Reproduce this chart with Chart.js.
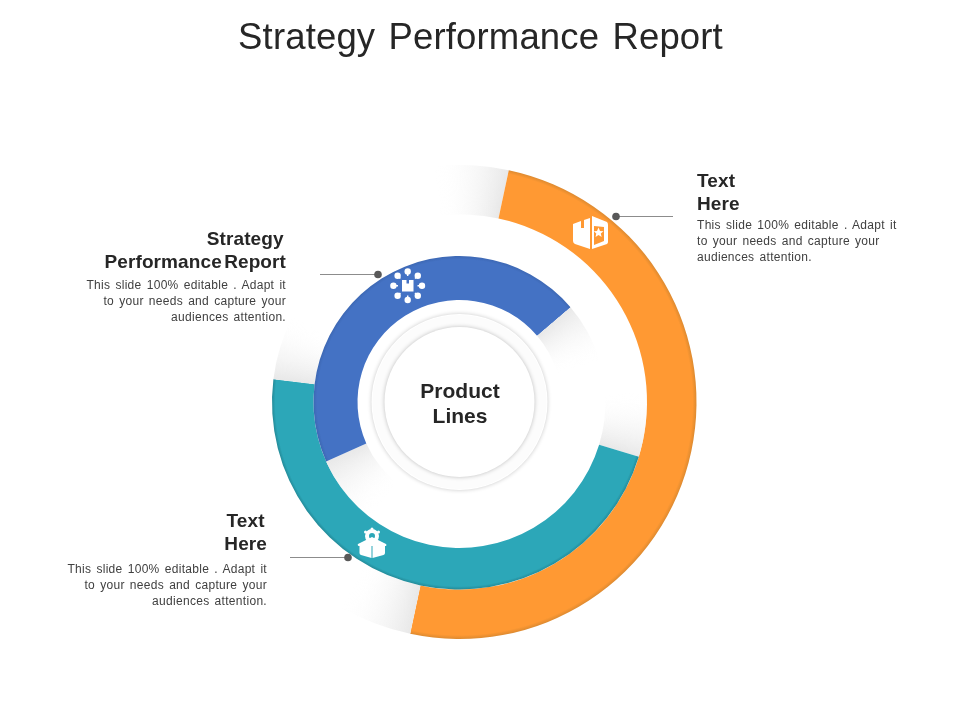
<!DOCTYPE html>
<html>
<head>
<meta charset="utf-8">
<title>Strategy Performance Report</title>
<script src="https://cdn.jsdelivr.net/npm/chart.js@4"></script>
<style>
    html, body { margin: 0; padding: 0; background: #fff; }
    #stage { position: relative; width: 960px; height: 720px; overflow: hidden; font-family: "Liberation Sans", Arial, sans-serif; }
    #ringChart { position: absolute; left: 0; top: 0; }
    .icon { position: absolute; left: 0; top: 0; }
    .title { position: absolute; left: 0; width: 961px; top: 15px; text-align: center; font-size: 36.5px; letter-spacing: 0.15px; line-height: 44px; color: #262626; word-spacing: 3px; }
    .centerText { position: absolute; left: 380px; width: 160px; top: 378px; text-align: center; font-size: 21px; font-weight: bold; line-height: 25px; color: #262626; }
    .callout { position: absolute; width: 240px; white-space: pre; }
    .callout.right { text-align: right; }
    .head { font-size: 19px; font-weight: bold; letter-spacing: 0.1px; word-spacing: -3px; line-height: 23px; color: #262626; }
    .body { font-size: 12px; line-height: 16px; color: #404040; letter-spacing: 0.3px; word-spacing: 1.5px; }
</style>
</head>
<body>
<div id="stage">
    <canvas id="ringChart" width="960" height="720"></canvas>

    <svg class="icon" width="960" height="720" viewBox="0 0 960 720">
        <!-- box with star -->
        <path d="M573 224 L581 221 V228 H584 V220 L590 218 V249 L575 244 Q573 243 573 241 Z" fill="#fff"/>
        <path d="M592 216 L607 222 Q608 223 608 225 V242 Q608 243 607 244 L592 249 Z M594 226 V245 L604 241 V227 Z" fill="#fff" fill-rule="evenodd"/>
        <path d="M598.500 227.500 L600 231 L603.500 231.300 L600.800 233.500 L601.700 237 L598.500 235 L595.500 237 L596.300 233.500 L593.800 231.300 L597 231 Z" fill="#fff"/>
        <!-- bulbs around a box -->
        <rect x="402" y="280" width="11.500" height="11.500" fill="#fff"/>
        <rect x="406.500" y="280" width="2.500" height="3.500" fill="#4472c4"/>
        <g fill="#fff">
            <circle cx="407.700" cy="271.500" r="3.200"/><circle cx="417.800" cy="275.700" r="3.200"/>
            <circle cx="422" cy="285.700" r="3.200"/><circle cx="417.800" cy="295.800" r="3.200"/>
            <circle cx="407.700" cy="300" r="3.200"/><circle cx="397.600" cy="295.800" r="3.200"/>
            <circle cx="393.400" cy="285.700" r="3.200"/><circle cx="397.600" cy="275.700" r="3.200"/>
        </g>
        <path d="M407.700 271.500 V276 M417.800 275.700 L415 278.500 M422 285.700 H417.500 M417.800 295.800 L415 293 M407.700 300 V295.500 M397.600 295.800 L400.400 293 M393.400 285.700 H398 M397.600 275.700 L400.400 278.500" stroke="#fff" stroke-width="1.500" fill="none"/>
        <!-- gift box with gear -->
        <circle cx="372" cy="536" r="5" fill="none" stroke="#fff" stroke-width="4"/>
        <circle cx="372" cy="529" r="1.500" fill="#fff"/><circle cx="365.500" cy="532" r="1.500" fill="#fff"/><circle cx="378.500" cy="532" r="1.500" fill="#fff"/>
        <path d="M372 537 L386 544 Q387 545 386 546 H358.500 Q357 545 358 544 Z" fill="#fff"/>
        <path d="M359.500 546 H371.500 V558 L361 555 Q359.500 554.500 359.500 553 Z M372.500 546 H385 V553 Q385 554.500 383.500 555 L372.500 558 Z" fill="#fff"/>
    </svg>

    <div class="title" id="titleText"></div>
    <div class="centerText" id="centerText"></div>
    <div class="callout" id="noteOrange" style="left: 697px; top: 169px;"></div>
    <div class="callout right" id="noteBlue" style="left: 46px; top: 227px;"></div>
    <div class="callout right" id="noteTeal" style="left: 27px; top: 509px;"></div>
</div>

<script>
const titleLabel = "Strategy Performance Report";
const centerLabel = "Product\nLines";
const bodyLabel = "This slide 100% editable . Adapt it\nto your needs and capture your\naudiences attention.";
const orangeHead = "Text\nHere";
const blueHead = "Strategy \nPerformance Report";
const tealHead = "Text \nHere";

const segmentLabels = ["Lead", "Share", "Tail", "Gap"];

// sweep of each ring in degrees, read clockwise from the rotation
const orangeSweep = [18, 180, 18, 144];
const tealSweep = [20, 170, 20, 150];
const blueSweep = [28, 163.5, 24, 144.5];
const orangeRotation = -6;
const tealRotation = 87;
const blueRotation = 218;

const CX = 459.5;
const CY = 402;
const OUTER = 237;

const canvas = document.getElementById("ringChart");
const ctx = canvas.getContext("2d");

document.getElementById("titleText").textContent = titleLabel;
document.getElementById("centerText").innerHTML = centerLabel.replace("\n", "<br>");

function fillNote(id, head, body, gap) {
    const el = document.getElementById(id);
    const h = document.createElement("div");
    h.className = "head";
    h.textContent = head;
    const b = document.createElement("div");
    b.className = "body";
    b.style.marginTop = gap + "px";
    b.textContent = body;
    el.appendChild(h);
    el.appendChild(b);
}
fillNote("noteOrange", orangeHead, bodyLabel, 2);
fillNote("noteBlue", blueHead, bodyLabel, 4);
fillNote("noteTeal", tealHead, bodyLabel, 6);

// grey shadow sector that melts into the page
function fade(fromDeg, spanDeg, greyFirst) {
    const g = ctx.createConicGradient(((fromDeg - 90) * Math.PI) / 180, CX, CY);
    const end = spanDeg / 360;
    g.addColorStop(0, greyFirst ? "#e8e8e8" : "rgba(255,255,255,0)");
    g.addColorStop(end, greyFirst ? "rgba(255,255,255,0)" : "#e8e8e8");
    g.addColorStop(Math.min(end + 0.001, 1), "rgba(255,255,255,0)");
    return g;
}

// flat band with a darker rim on the outer edge
function band(inner, outer, color, rim) {
    const g = ctx.createRadialGradient(CX, CY, inner, CX, CY, outer);
    g.addColorStop(0, color);
    g.addColorStop(0.92, color);
    g.addColorStop(1, rim);
    return g;
}

const centerDisc = {
    id: "centerDisc",
    afterDatasetsDraw(chart) {
        const c = chart.ctx;
        c.save();
        c.shadowColor = "rgba(0,0,0,0.22)";
        c.shadowBlur = 4;
        c.fillStyle = "#fff";
        c.beginPath();
        c.arc(CX, CY, 88, 0, Math.PI * 2);
        c.fill();
        c.shadowBlur = 0;
        c.fillStyle = "#fcfcfc";
        c.beginPath();
        c.arc(CX, CY, 87, 0, Math.PI * 2);
        c.fill();
        c.shadowColor = "rgba(0,0,0,0.25)";
        c.shadowBlur = 4;
        c.fillStyle = "#fff";
        c.beginPath();
        c.arc(CX, CY, 75, 0, Math.PI * 2);
        c.fill();
        c.restore();
    },
};

const calloutLines = {
    id: "calloutLines",
    afterDraw(chart) {
        const c = chart.ctx;
        const lines = [
            [616, 673, 216],
            [320, 378, 274],
            [290, 348, 557],
        ];
        c.save();
        lines.forEach(([x0, x1, y]) => {
            c.strokeStyle = "#8c8c8c";
            c.lineWidth = 1;
            c.beginPath();
            c.moveTo(x0, y + 0.5);
            c.lineTo(x1, y + 0.5);
            c.stroke();
        });
        c.fillStyle = "#595959";
        [[616, 216], [378, 274], [348, 557]].forEach(([x, y]) => {
            c.beginPath();
            c.arc(x, y + 0.5, 3.8, 0, Math.PI * 2);
            c.fill();
        });
        c.restore();
    },
};

new Chart(ctx, {
    type: "doughnut",
    data: {
        labels: segmentLabels,
        datasets: [
            {
                label: "Orange",
                data: orangeSweep,
                rotation: orangeRotation,
                weight: 49.5,
                order: 3,
                backgroundColor: [
                    fade(-6, 18, false),
                    band(187.500, 237, "#ff9933", "#dd8a30"),
                    fade(192, 18, true),
                    "rgba(255,255,255,0)",
                ],
            },
            {
                label: "Teal",
                data: tealSweep,
                rotation: tealRotation,
                weight: 41.5,
                order: 2,
                backgroundColor: [
                    fade(87, 20, false),
                    band(146, 187.500, "#2ca7b8", "#238a98"),
                    fade(277, 20, true),
                    "rgba(255,255,255,0)",
                ],
            },
            {
                label: "Blue",
                data: blueSweep,
                rotation: blueRotation,
                weight: 44,
                order: 1,
                backgroundColor: [
                    fade(218, 28, false),
                    band(102, 146, "#4472c4", "#3d68b4"),
                    fade(49.5, 24, true),
                    "rgba(255,255,255,0)",
                ],
            },
        ],
    },
    options: {
        responsive: false,
        animation: false,
        radius: OUTER,
        cutout: "43.04%",
        borderWidth: 0,
        layout: { padding: { left: 0, right: 41, top: 84, bottom: 0 } },
        plugins: {
            legend: { display: false },
            tooltip: { enabled: false },
        },
    },
    plugins: [centerDisc, calloutLines],
});
</script>
</body>
</html>
